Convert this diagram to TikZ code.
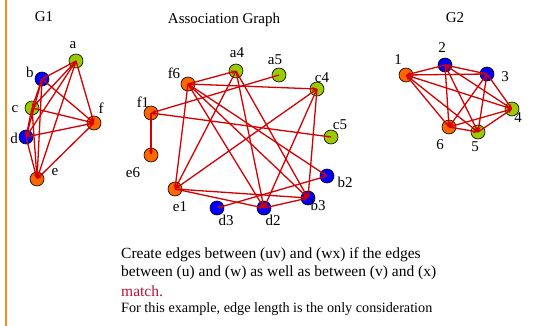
\documentclass[tikz,border=0pt]{standalone}
\usepackage{fontspec}
\setmainfont{Liberation Serif}
\usetikzlibrary{arrows.meta}
\definecolor{vgreen}{RGB}{153,204,0}
\definecolor{vblue}{RGB}{0,0,255}
\definecolor{vorange}{RGB}{255,102,0}
\definecolor{edgered}{RGB}{210,0,0}
\definecolor{matchred}{RGB}{190,16,56}
\definecolor{barorange}{RGB}{250,140,30}
\tikzset{
    vertex/.style={
        circle,
        draw=black,
        line width=0.6pt,
        minimum size=14pt,
        inner sep=0pt
    },
    greenv/.style={vertex, fill=vgreen},
    bluev/.style={vertex, fill=vblue},
    orangev/.style={vertex, fill=vorange},
    % red edges, drawn centre to centre
    rededge/.style={
        line width=1.3pt,
        edgered,
        -{Stealth[length=5pt, width=4pt]}
    },
    lbl/.style={font=\fontsize{15}{18}\selectfont, inner sep=0pt},
    txt/.style={font=\fontsize{15.5}{18}\selectfont, inner sep=0pt, anchor=west}
}

\begin{document}
\begin{tikzpicture}[x=1pt,y=-1pt]
    \useasboundingbox (0,0) rectangle (539,326);
    \coordinate (bartop) at (6,0);
    \coordinate (barbot) at (6,326);
    \draw[barorange, line width=1.6pt] (bartop) -- (barbot);

    % G1
    \node[lbl] (tg1) at (44,17) {G1};
    \node[greenv]  (a) at (76,61) {};
    \node[bluev]   (b) at (42,79) {};
    \node[greenv]  (c) at (32,108) {};
    \node[bluev]   (d) at (26,137) {};
    \node[orangev] (e) at (37,179) {};
    \node[orangev] (f) at (94,123) {};
    \foreach \u/\v in {a/b,a/c,a/d,a/e,a/f,b/c,b/d,b/e,b/f,c/d,c/e,c/f,d/e,d/f,f/e}
        \draw[rededge] (\u.center) -- (\v.center);
    \node[lbl] (la) at (73,45) {a};
    \node[lbl] (lb) at (30,72) {b};
    \node[lbl] (lc) at (15,109) {c};
    \node[lbl] (ld) at (14,138) {d};
    \node[lbl] (le) at (55,172) {e};
    \node[lbl] (lf) at (101,108) {f};

    % Association graph
    \node[lbl] (tag) at (224,20) {Association Graph};
    \node[greenv]  (a4) at (236,71) {};
    \node[greenv]  (a5) at (279,75) {};
    \node[orangev] (f6) at (188,84) {};
    \node[greenv]  (c4) at (317,89) {};
    \node[orangev] (f1) at (151,113) {};
    \node[greenv]  (c5) at (331,137) {};
    \node[orangev] (e6) at (151,155) {};
    \node[bluev]   (b2) at (327,176) {};
    \node[orangev] (e1) at (175,189) {};
    \node[bluev]   (b3) at (308,198) {};
    \node[bluev]   (d3) at (217,208) {};
    \node[bluev]   (d2) at (264,208) {};
    \foreach \u/\v in {f6/a4,f6/c4,f6/e1,f6/d2,f6/b3,f6/b2,
                       a5/f1,c5/f1,f1/e6,
                       a4/e1,a4/d2,a4/b3,
                       c4/e1,c4/d2,c4/b3,
                       e1/d2,e1/b3,b2/d3,d2/b3}
        \draw[rededge] (\u.center) -- (\v.center);
    \node[lbl] (la4) at (237,53) {a4};
    \node[lbl] (la5) at (275,60) {a5};
    \node[lbl] (lf6) at (174,73) {f6};
    \node[lbl] (lc4) at (322,78) {c4};
    \node[lbl] (lf1) at (143,102) {f1};
    \node[lbl] (lc5) at (340,125) {c5};
    \node[lbl] (le6) at (133,173) {e6};
    \node[lbl] (lb2) at (345,182) {b2};
    \node[lbl] (le1) at (180,207) {e1};
    \node[lbl] (lb3) at (318,205) {b3};
    \node[lbl] (ld3) at (226,220) {d3};
    \node[lbl] (ld2) at (273,220) {d2};

    % G2
    \node[lbl] (tg2) at (455,18) {G2};
    \node[orangev] (p1) at (406,75) {};
    \node[bluev]   (p2) at (445,65) {};
    \node[bluev]   (p3) at (487,74) {};
    \node[greenv]  (p4) at (512,109) {};
    \node[greenv]  (p5) at (478,132) {};
    \node[orangev] (p6) at (449,127) {};
    \foreach \u/\v in {p2/p1,p3/p1,p4/p1,p5/p1,p6/p1,p3/p2,p2/p4,p2/p5,p2/p6,
                       p3/p4,p3/p5,p3/p6,p5/p4,p6/p4,p6/p5}
        \draw[rededge] (\u.center) -- (\v.center);
    \node[lbl] (lp1) at (398,60) {1};
    \node[lbl] (lp2) at (442,48) {2};
    \node[lbl] (lp3) at (505,77) {3};
    \node[lbl] (lp4) at (518,118) {4};
    \node[lbl] (lp5) at (475,147) {5};
    \node[lbl] (lp6) at (440,145) {6};

    % text
    \node[txt] (t1) at (121,255) {Create edges between (uv) and (wx) if the edges};
    \node[txt] (t2) at (121,273) {between (u) and (w) as well as between (v) and (x)};
    \node[txt, text=matchred] (t3) at (121,291) {match.};
    \node[txt, font=\fontsize{14.2}{16}\selectfont] (t4) at (121,309) {For this example, edge length is the only consideration};
\end{tikzpicture}
\end{document}
